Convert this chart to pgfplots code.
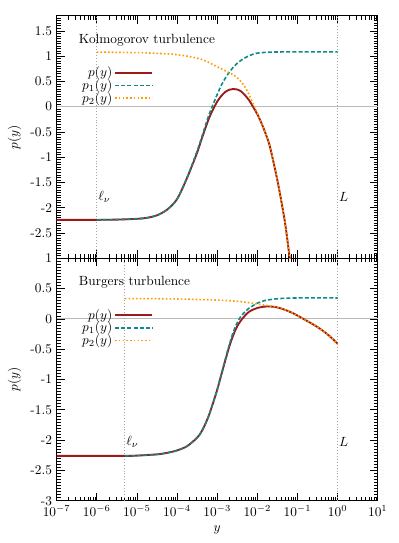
\documentclass[border=0pt]{standalone}
\usepackage{pgfplots}
\pgfplotsset{compat=1.18}
\definecolor{pred}{HTML}{9B1B1B}
\definecolor{pone}{HTML}{0E8A8A}
\definecolor{ptwo}{HTML}{FF9A00}

\begin{document}
\begin{tikzpicture}
% Burgers (lower panel)
\begin{axis}[
  scale only axis, width=241pt, height=182pt,
  xmode=log, xmin=1e-7, xmax=10,
  xtick={1e-7,1e-6,1e-5,1e-4,1e-3,1e-2,1e-1,1,10},
  tick align=inside,
  major tick length=6pt, minor tick length=3pt,
  axis line style={line width=0.8pt},
  tick style={black, line width=0.5pt},
  legend style={draw=none, fill=none, at={(0.06,0.81)}, anchor=north west,
    row sep=-2.5pt, nodes={inner sep=1.5pt}},
  legend cell align=right,
  legend plot pos=right,
  legend image code/.code={\draw[#1] (0pt,0pt) -- (28pt,0pt);},
  ylabel={$p(y)$},
  ymin=-3, ymax=1,
  ytick={-3,-2.5,-2,-1.5,-1,-0.5,0,0.5,1},
  yticklabels={-3,-2.5,-2,-1.5,-1,-0.5,0,0.5,1},
  minor ytick={-3,-2.95,...,1},
  xlabel={$y$},
]
\addplot[gray!55, line width=0.6pt, forget plot] coordinates {(1e-7,0) (10,0)};
\addplot[gray!70, line width=0.5pt, dash pattern=on 0.7pt off 1.5pt, forget plot] coordinates {(5e-6,-3) (5e-6,1)};
\addplot[gray!70, line width=0.5pt, dash pattern=on 0.7pt off 1.5pt, forget plot] coordinates {(1,-3) (1,1)};
\addplot[pred, line width=1.4pt, smooth] coordinates {
  (1e-7,-2.26) (5e-6,-2.26) (1e-5,-2.255) (3.162e-5,-2.235) (5.623e-5,-2.21)
  (1e-4,-2.17) (1.778e-4,-2.10) (3.162e-4,-1.96) (3.981e-4,-1.87) (5.012e-4,-1.74)
  (6.310e-4,-1.58) (7.943e-4,-1.38) (1e-3,-1.17) (1.259e-3,-0.93) (1.585e-3,-0.69)
  (1.995e-3,-0.46) (2.512e-3,-0.27) (3.162e-3,-0.12) (3.981e-3,-0.02) (5.012e-3,0.06)
  (6.310e-3,0.12) (7.943e-3,0.155) (1e-2,0.18) (1.413e-2,0.20) (1.995e-2,0.205)
  (2.818e-2,0.195) (3.981e-2,0.17) (6.310e-2,0.12) (0.1,0.055) (0.1585,-0.02)
  (0.2512,-0.095) (0.3981,-0.18) (0.6310,-0.285) (1,-0.41)
};
\addlegendentry{$p(y)$}
\addplot[pone, line width=1.2pt, dash pattern=on 3pt off 1.6pt, smooth] coordinates {
  (5e-6,-2.26) (1e-5,-2.255) (3.162e-5,-2.235) (5.623e-5,-2.21) (1e-4,-2.17)
  (1.778e-4,-2.10) (3.162e-4,-1.96) (3.981e-4,-1.87) (5.012e-4,-1.74) (6.310e-4,-1.58)
  (7.943e-4,-1.38) (1e-3,-1.17) (1.259e-3,-0.92) (1.585e-3,-0.67) (1.995e-3,-0.43)
  (2.512e-3,-0.22) (3.162e-3,-0.06) (3.981e-3,0.05) (5.012e-3,0.12) (6.310e-3,0.18)
  (7.943e-3,0.22) (1e-2,0.26) (1.259e-2,0.285) (1.585e-2,0.305) (2.512e-2,0.325)
  (3.981e-2,0.337) (0.1,0.345) (1,0.345)
};
\addlegendentry{$p_1(y)$}
\addplot[ptwo, line width=1.2pt, dash pattern=on 1.2pt off 1.6pt, smooth] coordinates {
  (5e-6,0.335) (1e-5,0.335) (3.162e-5,0.333) (1e-4,0.328) (3.162e-4,0.32)
  (1e-3,0.31) (1.995e-3,0.30) (3.162e-3,0.29) (5.012e-3,0.275) (7.943e-3,0.255)
  (1e-2,0.245) (1.413e-2,0.23) (1.995e-2,0.215) (2.818e-2,0.198) (3.981e-2,0.17)
  (6.310e-2,0.12) (0.1,0.055) (0.1585,-0.02) (0.2512,-0.095) (0.3981,-0.18)
  (0.6310,-0.285) (1,-0.41)
};
\addlegendentry{$p_2(y)$}
\node[anchor=west] at (rel axis cs:0.055,0.90) {Burgers turbulence};
\node[anchor=west, inner sep=1pt] at (axis cs:5e-6,-2.03) {$\ell_\nu$};
\node[anchor=west, inner sep=1pt] at (axis cs:1,-2.03) {$L$};
\end{axis}

% Kolmogorov (upper panel)
\begin{axis}[at={(0,182pt)},
  scale only axis, width=241pt, height=182pt,
  xmode=log, xmin=1e-7, xmax=10,
  xtick={1e-7,1e-6,1e-5,1e-4,1e-3,1e-2,1e-1,1,10},
  xticklabels={},
  tick align=inside,
  major tick length=6pt, minor tick length=3pt,
  axis line style={line width=0.8pt},
  tick style={black, line width=0.5pt},
  legend style={draw=none, fill=none, at={(0.06,0.81)}, anchor=north west,
    row sep=-2.5pt, nodes={inner sep=1.5pt}},
  legend cell align=right,
  legend plot pos=right,
  legend image code/.code={\draw[#1] (0pt,0pt) -- (28pt,0pt);},
  ylabel={$p(y)$},
  ymin=-3, ymax=1.8,
  ytick={-3,-2.5,-2,-1.5,-1,-0.5,0,0.5,1,1.5},
  yticklabels={,-2.5,-2,-1.5,-1,-0.5,0,0.5,1,1.5},
  minor ytick={-3,-2.95,...,1.8},
]
\addplot[gray!55, line width=0.6pt, forget plot] coordinates {(1e-7,0) (10,0)};
\addplot[gray!70, line width=0.5pt, dash pattern=on 0.7pt off 1.5pt, forget plot] coordinates {(1e-6,-3) (1e-6,1.8)};
\addplot[gray!70, line width=0.5pt, dash pattern=on 0.7pt off 1.5pt, forget plot] coordinates {(1,-3) (1,1.8)};
\addplot[pred, line width=1.4pt, smooth] coordinates {
  (1e-7,-2.24) (1e-6,-2.24) (3.162e-6,-2.235) (1e-5,-2.22) (1.778e-5,-2.20)
  (3.162e-5,-2.15) (5.623e-5,-2.04) (1e-4,-1.83) (1.778e-4,-1.41) (3.162e-4,-0.91)
  (3.981e-4,-0.67) (5.012e-4,-0.44) (6.310e-4,-0.22) (7.943e-4,-0.05) (1e-3,0.10)
  (1.259e-3,0.21) (1.585e-3,0.29) (1.995e-3,0.335) (2.512e-3,0.35) (3.162e-3,0.34)
  (3.981e-3,0.30) (5.012e-3,0.22) (6.310e-3,0.12) (7.943e-3,-0.01) (1e-2,-0.15)
  (1.259e-2,-0.32) (1.585e-2,-0.52) (1.995e-2,-0.75) (2.512e-2,-1.09) (3.162e-2,-1.46)
  (3.981e-2,-1.88) (5.012e-2,-2.35) (6.310e-2,-2.96) (7.079e-2,-3.3)
};
\addlegendentry{$p(y)$}
\addplot[pone, line width=1.2pt, dash pattern=on 3pt off 1.6pt, smooth] coordinates {
  (1e-6,-2.24) (3.162e-6,-2.235) (1e-5,-2.22) (1.778e-5,-2.20) (3.162e-5,-2.15)
  (5.623e-5,-2.04) (1e-4,-1.83) (1.778e-4,-1.40) (3.162e-4,-0.88) (3.981e-4,-0.64)
  (5.012e-4,-0.39) (6.310e-4,-0.15) (7.943e-4,0.05) (1e-3,0.24) (1.259e-3,0.42)
  (1.585e-3,0.56) (1.995e-3,0.68) (2.512e-3,0.78) (3.162e-3,0.86) (3.981e-3,0.92)
  (5.012e-3,0.97) (6.310e-3,1.01) (7.943e-3,1.04) (1e-2,1.06) (1.585e-2,1.075)
  (3.162e-2,1.082) (0.1,1.085) (1,1.085)
};
\addlegendentry{$p_1(y)$}
\addplot[ptwo, line width=1.2pt, dash pattern=on 1.2pt off 1.6pt, smooth] coordinates {
  (1e-6,1.08) (1e-5,1.07) (3.162e-5,1.055) (1e-4,1.03) (3.162e-4,0.96)
  (5.623e-4,0.89) (1e-3,0.79) (1.585e-3,0.71) (2.512e-3,0.63) (3.162e-3,0.57)
  (3.981e-3,0.49) (5.012e-3,0.38) (6.310e-3,0.23) (7.943e-3,0.05) (1e-2,-0.13)
  (1.259e-2,-0.32) (1.585e-2,-0.52) (1.995e-2,-0.75) (2.512e-2,-1.09) (3.162e-2,-1.46)
  (3.981e-2,-1.88) (5.012e-2,-2.35) (6.310e-2,-2.96) (7.079e-2,-3.3)
};
\addlegendentry{$p_2(y)$}
\node[anchor=west] at (rel axis cs:0.055,0.90) {Kolmogorov turbulence};
\node[anchor=west, inner sep=1pt] at (axis cs:1e-6,-1.79) {$\ell_\nu$};
\node[anchor=west, inner sep=1pt] at (axis cs:1,-1.79) {$L$};
\end{axis}
\pgfresetboundingbox
\path[use as bounding box] (-42.5pt,-31.7pt) rectangle (256.7pt,375.8pt);
\end{tikzpicture}
\end{document}
